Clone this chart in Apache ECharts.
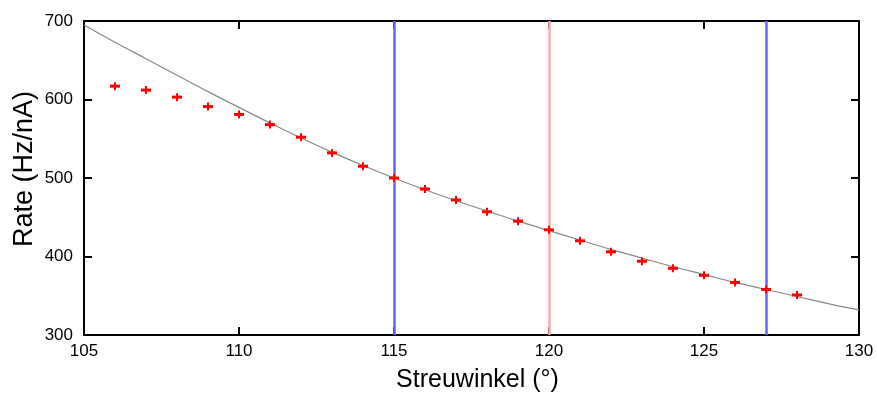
<!DOCTYPE html>
<html><head><meta charset="utf-8">
<script src="https://cdn.jsdelivr.net/npm/echarts@6/dist/echarts.min.js"></script>
<style>html,body{margin:0;padding:0;background:#fff}#c{width:877px;height:394px}</style>
</head><body><div id="c"></div>
<script>
// measured data points
const angles = [106,107,108,109,110,111,112,113,114,115,116,117,118,119,120,121,122,123,124,125,126,127,128];
const rates  = [617,612,603,591,581,568,552,532,515,500,486,472,457,445,434,420,406,394,385,376,367,358,351];
// fit curve
const fitAngles = [105,106,107,108,109,110,111,112,113,114,115,116,117,118,119,120,121,122,123,124,125,126,127,128,129,130];
const fitRates  = [695,673,652,631,610,590,570,551,533,516,500,485,471,458,445,433,421,409,398,387,377,367,358,349,340,332];
// vertical marker lines
const blueLines = [115,127];
const redLines = [120];

const chart = echarts.init(document.getElementById('c'));
const font = 'Liberation Sans, Arial, sans-serif';
const pts = angles.map((a,i)=>[a,rates[i]]);
const fit = fitAngles.map((a,i)=>[a,fitRates[i]]);

chart.setOption({
  animation:false,
  grid:{left:84,right:18,top:21,bottom:59,outerBoundsMode:'none',containLabel:false},
  xAxis:[{
    type:'value',min:105,max:130,interval:5,
    name:'Streuwinkel (°)',nameLocation:'middle',nameGap:33,nameMoveOverlap:false,
    nameTextStyle:{fontSize:25,color:'#000',fontFamily:font,padding:[0,0,0,12]},
    axisLine:{lineStyle:{color:'#000',width:2}},
    axisTick:{inside:true,length:8,lineStyle:{color:'#000',width:2}},
    axisLabel:{fontSize:17,color:'#000',fontFamily:font,margin:8},
    splitLine:{show:false}
  },{
    type:'value',min:105,max:130,interval:5,position:'top',
    axisLine:{lineStyle:{color:'#000',width:2}},
    axisTick:{inside:true,length:8,lineStyle:{color:'#000',width:2}},
    axisLabel:{show:false},splitLine:{show:false}
  }],
  yAxis:[{
    type:'value',min:300,max:700,interval:100,
    name:'Rate (Hz/nA)',nameLocation:'middle',nameGap:46,nameMoveOverlap:false,
    nameTextStyle:{fontSize:27,color:'#000',fontFamily:font,padding:[0,0,0,18]},
    axisLine:{show:true,lineStyle:{color:'#000',width:2}},
    axisTick:{show:true,inside:true,length:8,lineStyle:{color:'#000',width:2}},
    axisLabel:{fontSize:17,color:'#000',fontFamily:font,margin:11},
    splitLine:{show:false}
  },{
    type:'value',min:300,max:700,interval:100,position:'right',
    axisLine:{show:true,lineStyle:{color:'#000',width:2}},
    axisTick:{show:true,inside:true,length:8,lineStyle:{color:'#000',width:2}},
    axisLabel:{show:false},splitLine:{show:false}
  }],
  series:[
    {type:'line',data:fit,smooth:0.4,symbol:'none',z:2,
     lineStyle:{color:'#888',width:1.2},
     markLine:{silent:true,symbol:'none',label:{show:false},
       data:[...blueLines.map(v=>({xAxis:v,lineStyle:{color:'#6666ff',width:2.5,type:'solid'}})),
             ...redLines.map(v=>({xAxis:v,lineStyle:{color:'#ffaaaa',width:2.5,type:'solid'}}))]}},
    {type:'custom',data:pts,z:5,
     renderItem:function(params,api){
       const p = api.coord([api.value(0),api.value(1)]);
       return {type:'group',children:[
         {type:'rect',shape:{x:p[0]-5,y:p[1]-1.5,width:10,height:3},style:{fill:'#ff0000'}},
         {type:'rect',shape:{x:p[0]-1,y:p[1]-4,width:2,height:8},style:{fill:'#ff0000'}}
       ]};
     }}
  ]
});
</script></body></html>
